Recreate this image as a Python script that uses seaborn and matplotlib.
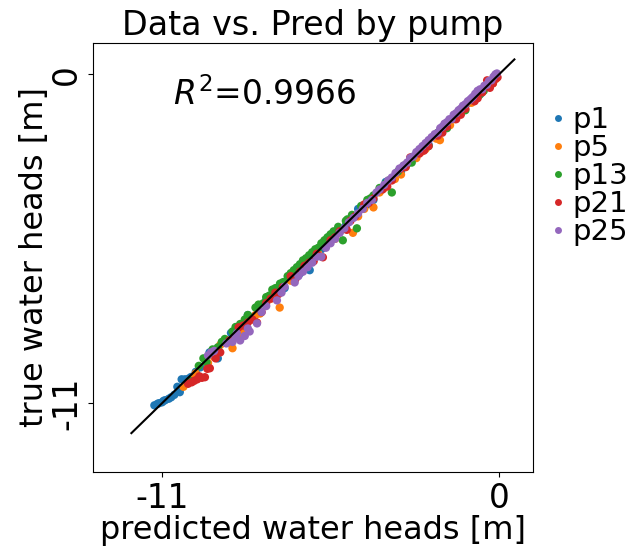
import matplotlib
matplotlib.use("Agg")
import matplotlib.pyplot as plt
import seaborn as sns
import pandas as pd
from matplotlib.lines import Line2D

pumps = ["p1", "p5", "p13", "p21", "p25"]
colors = ["#1f77b4", "#ff7f0e", "#2ca02c", "#d62728", "#9467bd"]

p1_pred = [-11.25, -11.1, -11.0, -10.9, -10.78, -10.7, -10.42, -10.36, -10.25, -10.12, -9.9, -9.6, -9.3,
           -9.18, -8.9, -8.56, -8.3, -8.0, -7.6, -7.2, -6.9, -6.5, -6.18, -5.8, -5.4, -5.0, -4.6, -4.1,
           -3.7, -3.2, -2.8, -2.3, -1.9, -1.4, -1.0, -0.6, -0.3,
           -11.15, -10.95, -10.6, -10.5, -10.05, -9.75, -9.45, -8.75, -8.2, -7.85, -7.0, -6.3, -5.6, -4.3,
           -2.5, -0.8]
p1_true = [-11.07, -11.0, -10.97, -10.9, -10.85, -10.8, -10.63, -10.2, -10.2, -10.17, -9.95, -9.55, -9.35,
           -9.5, -8.95, -8.46, -8.35, -8.1, -7.55, -7.3, -6.85, -6.66, -6.55, -5.85, -5.3, -5.05, -4.5, -4.2,
           -3.6, -3.25, -2.75, -2.35, -1.85, -1.45, -0.95, -0.65, -0.25,
           -11.02, -10.92, -10.72, -10.45, -10.12, -9.8, -9.3, -8.65, -8.05, -7.95, -7.15, -6.45, -5.5, -4.35,
           -2.55, -0.75]

p5_pred = [-10.3, -9.9, -9.5, -9.1, -8.7, -8.4, -8.1, -7.8, -7.45, -7.16, -6.8, -6.45, -6.18, -5.9, -5.55,
           -5.2, -4.77, -4.4, -4.1, -3.75, -3.4, -3.05, -2.7, -2.4, -1.93, -1.6, -1.25, -0.9, -0.55, -0.3, -0.1,
           -10.0, -9.3, -8.55, -7.95, -7.3, -6.6, -6.05, -5.35, -4.6, -3.9, -3.2, -2.55, -2.05, -1.45,
           -0.75, -0.2]
p5_true = [-10.45, -10.0, -9.65, -9.05, -9.16, -8.55, -8.2, -8.0, -7.5, -7.8, -6.9, -6.5, -6.29, -6.0, -5.6,
           -5.25, -5.3, -4.5, -4.45, -3.8, -3.5, -3.1, -2.8, -2.5, -2.2, -1.7, -1.3, -0.95, -0.6, -0.3, -0.15,
           -10.2, -9.45, -8.75, -8.05, -7.45, -6.75, -6.15, -5.5, -4.75, -3.95, -3.35, -2.6, -2.15, -1.5,
           -0.8, -0.3]

p13_pred = [-10.1, -9.8, -9.55, -9.35, -9.18, -8.95, -8.7, -8.45, -8.2, -7.95, -7.7, -7.5, -7.3, -7.05, -6.8,
            -6.6, -6.4, -6.2, -6.0, -5.8, -5.6, -5.4, -5.1, -4.95, -4.64, -4.5, -4.3, -4.1, -3.9, -3.7,
            -3.5, -3.3, -3.1, -2.85, -2.6, -2.3, -2.0, -1.7, -1.4, -1.1, -0.8, -0.5, -0.2,
            -9.65, -9.05, -8.6, -8.3, -7.85, -7.6, -7.4, -7.15, -6.9, -6.7, -6.5, -6.3, -6.1, -5.9, -5.7,
            -5.5, -5.25, -5.0, -4.8, -4.2, -3.6, -3.0, -2.45, -1.85, -1.25, -0.65]
p13_true = [-10.25, -9.75, -9.63, -9.2, -9.13, -8.85, -8.6, -8.35, -8.05, -7.8, -7.66, -7.4, -7.15, -6.95, -6.65,
            -6.45, -6.22, -6.05, -5.85, -5.65, -5.45, -5.25, -5.55, -4.85, -5.15, -4.4, -4.2, -4.05, -3.8, -3.65,
            -3.95, -3.25, -3.05, -2.95, -2.55, -2.4, -1.95, -1.8, -1.35, -1.2, -0.85, -0.55, -0.25,
            -9.5, -8.95, -8.45, -8.2, -7.7, -7.45, -7.2, -7.0, -6.75, -6.55, -6.35, -6.15, -5.95, -5.8, -5.55,
            -5.35, -5.1, -4.9, -4.7, -4.15, -3.55, -3.0, -2.5, -1.85, -1.3, -0.7]

p21_pred = [-10.03, -9.85, -9.7, -9.6, -9.44, -9.1, -8.8, -8.5, -8.2, -8.05, -7.9, -7.6, -7.3, -7.06, -6.8,
            -6.5, -6.2, -5.95, -5.75, -5.5, -5.2, -4.97, -4.7, -4.4, -4.1, -3.8, -3.5, -3.2, -2.9, -2.6,
            -2.3, -2.0, -1.7, -1.4, -1.1, -0.8, -0.55, -0.39, -0.2, -0.05,
            -10.15, -9.95, -9.78, -9.52, -9.25, -8.65, -8.35, -7.75, -7.45, -7.2, -6.65, -6.35, -6.05, -5.35,
            -4.85, -4.25, -3.65, -3.05, -2.45, -1.85, -1.25, -0.7, -0.3, -0.12]
p21_true = [-10.3, -10.2, -10.15, -10.13, -9.83, -9.3, -8.9, -8.46, -8.3, -8.2, -8.3, -7.65, -7.3, -7.12, -6.75,
            -6.6, -6.3, -6.0, -6.12, -5.55, -5.25, -5.2, -4.75, -4.35, -4.15, -3.85, -3.55, -3.15, -2.78, -2.65,
            -2.4, -2.05, -1.75, -1.5, -1.15, -0.9, -0.6, -0.2, -0.3, -0.1,
            -10.35, -10.25, -10.1, -9.85, -9.5, -8.8, -8.4, -7.95, -7.5, -7.35, -6.85, -6.4, -6.25, -5.45,
            -4.9, -4.3, -3.75, -3.1, -2.55, -1.95, -1.35, -0.8, -0.45, -0.15]

p25_pred = [-9.5, -9.3, -8.9, -8.56, -8.45, -8.3, -8.14, -7.9, -7.6, -7.25, -7.0, -6.67, -6.4, -6.1, -5.8,
            -5.5, -5.2, -4.9, -4.6, -4.3, -4.0, -3.75, -3.5, -3.25, -3.0, -2.8, -2.6, -2.4, -2.2, -2.0,
            -1.85, -1.7, -1.55, -1.4, -1.25, -1.1, -0.95, -0.85, -0.7, -0.55, -0.4, -0.25, -0.07,
            -9.4, -8.7, -8.6, -8.2, -7.75, -7.1, -6.55, -6.25, -5.95, -5.65, -5.35, -5.05, -4.75, -4.45,
            -4.15, -3.9, -3.62, -3.38, -3.12, -2.9, -2.7, -2.5, -2.3, -2.1, -1.92, -1.78, -1.62, -1.48,
            -1.32, -1.18, -1.02, -0.9, -0.78, -0.62, -0.48, -0.33, -0.18, -0.12]
p25_true = [-9.4, -9.25, -9.0, -8.66, -8.9, -8.75, -8.6, -8.33, -7.75, -7.56, -7.1, -6.96, -6.6, -6.3, -6.1,
            -5.65, -5.3, -4.95, -4.65, -4.3, -3.95, -3.7, -3.45, -3.15, -2.95, -2.75, -2.5, -2.3, -2.1, -1.95,
            -1.75, -1.6, -1.5, -1.3, -1.15, -1.0, -0.85, -0.75, -0.55, -0.5, -0.35, -0.2, 0.03,
            -9.3, -8.95, -8.8, -8.5, -7.95, -7.3, -6.75, -6.45, -6.1, -5.8, -5.5, -5.15, -4.8, -4.5,
            -4.2, -3.85, -3.55, -3.3, -3.05, -2.8, -2.6, -2.4, -2.2, -2.0, -1.8, -1.65, -1.5, -1.35,
            -1.2, -1.05, -0.9, -0.8, -0.65, -0.5, -0.38, -0.22, -0.08, 0.0]

diag_ends = [-12.0, 0.5]
tick_vals = [-11, 0]
tick_labels = ["-11", "0"]
r2_text = "$R^2$=0.9966"

preds = [p1_pred, p5_pred, p13_pred, p21_pred, p25_pred]
trues = [p1_true, p5_true, p13_true, p21_true, p25_true]
frames = []
for name, pr, tr in zip(pumps, preds, trues):
    frames.append(pd.DataFrame({"pred": pr, "true": tr, "pump": name}))
df = pd.concat(frames, ignore_index=True)

plt.rcParams["font.family"] = ["DejaVu Sans"]
fig = plt.figure(figsize=(6.29, 5.51), dpi=100)
ax = fig.add_axes([0.148, 0.1434, 0.699, 0.7786])

sns.scatterplot(data=df, x="pred", y="true", hue="pump", hue_order=pumps,
                palette=colors, s=36, linewidth=0, alpha=1.0, ax=ax, legend=False)
ax.plot(diag_ends, diag_ends, color="black", lw=1.5)

ax.set_xlim(-13.25, 1.1)
ax.set_ylim(-13.3, 1.05)
ax.set_xticks(tick_vals)
ax.set_xticklabels(tick_labels, fontsize=23.5)
ax.set_yticks(tick_vals)
ax.set_yticklabels(tick_labels, fontsize=23.5, rotation=90, va="center")
ax.set_xlabel("predicted water heads [m]", fontsize=23, labelpad=0)
ax.set_ylabel("true water heads [m]", fontsize=23, labelpad=0)
ax.set_title("Data vs. Pred by pump", fontsize=24, pad=6)
ax.text(0.182, 0.879, r2_text, transform=ax.transAxes, fontsize=23.7, ha="left", va="center")

handles = [Line2D([0], [0], marker="o", linestyle="", markersize=5, markerfacecolor=c,
                  markeredgewidth=0, color=c) for c in colors]
ax.legend(handles, pumps, loc="center left", bbox_to_anchor=(1.0, 0.69), frameon=False,
          fontsize=21, labelspacing=0.0, handletextpad=0.2, handlelength=0.6, borderaxespad=0.15)

fig.savefig("out.png", dpi=100)
